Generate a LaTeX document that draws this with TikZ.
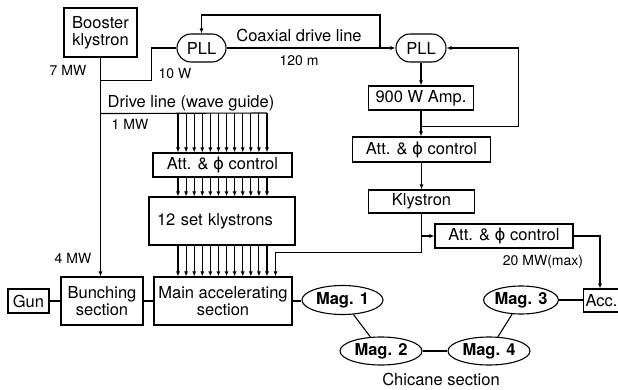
\documentclass[tikz,border=0pt]{standalone}
\usepackage{fontspec}
\setmainfont{TeX Gyre Heros}
\newfontfamily\dgsym{DejaVu Sans}
\usetikzlibrary{shapes.geometric,shapes.misc,arrows.meta,calc}
\newcommand{\dgmain}{\fontsize{16.5}{17}\selectfont}
\newcommand{\dgsmall}{\fontsize{14}{15}\selectfont}
\newcommand{\dgphi}{{\dgsym ϕ}}
\begin{document}
\begin{tikzpicture}[x=1pt,y=-1pt,line width=1.1pt,
  box/.style={draw,rectangle,inner sep=1pt,align=center,font=\dgmain},
  pll/.style={draw,rounded rectangle,inner sep=1pt,font=\dgmain},
  mag/.style={draw,ellipse,inner sep=0pt,font=\dgmain\bfseries},
  txt/.style={inner sep=0pt,font=\dgmain},
  lbl/.style={inner sep=0pt,font=\dgsmall},
  arr/.style={-{Latex[length=5pt,width=4pt]}}]
\useasboundingbox (0,0) rectangle (618,390);
\fill[white] (0,0) rectangle (618,390);

% boxes
\node[box,minimum width=73pt,minimum height=49pt] (booster) at (100.5,32.5) {Booster\\klystron};
\node[pll,minimum width=51pt,minimum height=28pt] (pll1) at (201.5,48) {PLL};
\node[pll,minimum width=52pt,minimum height=28pt] (pll2) at (421,48) {PLL};
\node[box,minimum width=105pt,minimum height=24pt] (amp) at (421,98) {900 W Amp.};
\node[box,minimum width=138pt,minimum height=25pt] (att2) at (421.5,149.5) {Att. \& \dgphi\ control};
\node[box,minimum width=106pt,minimum height=23pt] (kly) at (421.5,201.5) {Klystron};
\node[box,minimum width=138pt,minimum height=24pt] (att3) at (504,236) {Att. \& \dgphi\ control};
\node[box,anchor=west,minimum height=23pt,text width=41pt,align=left,inner xsep=2pt] (acc) at (583,300.5) {Acc.};
\node[box,minimum width=139pt,minimum height=24pt] (att1) at (222.5,165) {Att. \& \dgphi\ control};
\node[box,minimum height=48pt,text width=130pt,inner xsep=8pt,align=left] (k12) at (222,221) {12 set klystrons};
\node[box,minimum width=138pt,minimum height=48pt] (main) at (223,301) {Main accelerating\\section};
\node[box,minimum width=82pt,minimum height=48pt] (bunch) at (102,301) {Bunching\\section};
\node[box,minimum width=41pt,minimum height=24pt] (gun) at (28.5,301) {Gun};
\node[mag,minimum width=81pt,minimum height=29pt] (mag1) at (342.5,300) {Mag. 1};
\node[mag,minimum width=82pt,minimum height=28pt] (mag2) at (381,351) {Mag. 2};
\node[mag,minimum width=82pt,minimum height=28pt] (mag4) at (489,351) {Mag. 4};
\node[mag,minimum width=73pt,minimum height=28pt] (mag3) at (521,300) {Mag. 3};

% labels
\node[lbl] (l7) at (68,70) {7 MW};
\node[lbl] (l10) at (175,74) {10 W};
\node[txt] (lcoax) at (299,35) {Coaxial drive line};
\node[lbl] (l120) at (299,61) {120 m};
\node[txt] (ldrive) at (191,103) {Drive line (wave guide)};
\node[lbl] (l1) at (130,124) {1 MW};
\node[lbl] (l4) at (73,258) {4 MW};
\node[lbl] (l20) at (543,262) {20 MW(max)};
\node[txt] (lchic) at (441,379.5) {Chicane section};

% booster feed
\draw[arr] (booster.south) -- (booster.south |- bunch.north);
\path (booster.south) ++(0,23) coordinate (j1);
\draw (j1) -| ($(pll1.west)+(-25,0)$) -- (pll1.west);
\path (booster.south) ++(0,56) coordinate (j6);

% coaxial line
\draw[arr] (pll1.east) -- (pll2.west);
\coordinate (j2) at (380,48);
\draw[arr] (j2) -- ++(0,-33) -| (pll1.north);

% right chain
\draw[arr] (pll2.south) -- (amp.north);
\draw[arr] (amp.south) -- (amp.south |- att2.north);
\path (amp.south) ++(0,16) coordinate (j3);
\draw[arr] (j3) -| ($(pll2.east)+(72,0)$) -- (pll2.east);
\draw[arr] (att2.south) -- (kly.north);
\path (kly.south) ++(0,38.5) coordinate (j5);
\path (kly.south |- att3.west) coordinate (j4);
\draw[arr] (j4) -- (att3.west);
\path (j5 -| main.north east) ++(-17,0) coordinate (k13);
\draw[arr] (kly.south) -- (j5) -- (k13) -- (k13 |- main.north);
\draw[arr] (att3.east) -| ($(acc.north west)+(17,0)$);

% bundles
\foreach \i in {0,...,11} {
  \pgfmathsetmacro\xx{178+8.09*\i}
  \coordinate (t\i) at (\xx,113);
  \draw[arr] (t\i) -- (t\i |- att1.north);
  \draw[arr] (t\i |- att1.south) -- (t\i |- k12.north);
  \draw[arr] (t\i |- k12.south) -- (t\i |- main.north);
}
\draw (j6) -- (t11);

% beam line
\draw (gun.east) -- (bunch.west);
\draw (bunch.east) -- (main.west);
\draw (main.east) -- (main.east -| mag1.west);
\draw (mag1) -- (mag2);
\draw (mag2) -- (mag4);
\draw (mag4) -- (mag3);
\draw (mag3.east) -- (mag3.east -| acc.west);
\end{tikzpicture}
\end{document}
